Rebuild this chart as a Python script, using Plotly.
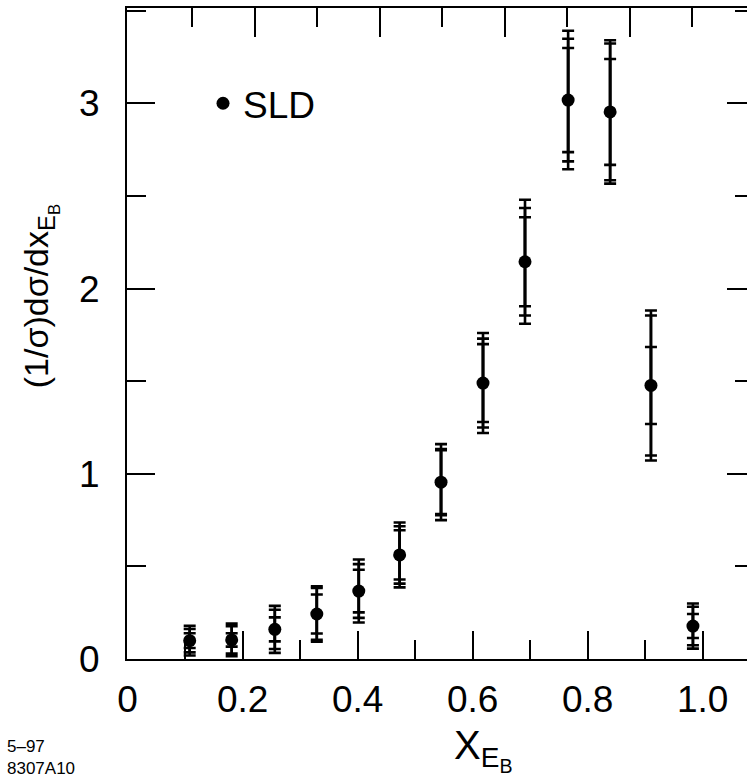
import plotly.graph_objects as go

# ---- data ----
x_eb = [0.108, 0.181, 0.256, 0.329, 0.402, 0.473, 0.545, 0.618, 0.691, 0.766, 0.839, 0.910, 0.983]
dist = [0.099, 0.103, 0.160, 0.243, 0.367, 0.562, 0.955, 1.490, 2.145, 3.018, 2.954, 1.477, 0.178]
err_stat = [0.040, 0.036, 0.065, 0.105, 0.115, 0.133, 0.172, 0.210, 0.240, 0.281, 0.286, 0.208, 0.065]
err_mid = [0.063, 0.074, 0.106, 0.140, 0.145, 0.155, 0.178, 0.240, 0.290, 0.331, 0.369, 0.378, 0.104]
err_tot = [0.080, 0.088, 0.127, 0.150, 0.170, 0.175, 0.205, 0.270, 0.335, 0.374, 0.387, 0.405, 0.122]

x_tickvals = [0, 0.2, 0.4, 0.6, 0.8, 1.0]
x_ticktext = ["0", "0.2", "0.4", "0.6", "0.8", "1.0"]
y_tickvals = [0, 1, 2, 3]
y_ticktext = ["0", "1", "2", "3"]
series_name = "SLD"

FONT = "Liberation Sans, Arial, Helvetica, sans-serif"
X_RANGE = [-0.001, 1.077]
Y_RANGE = [0, 3.515]

fig = go.Figure()

def err_trace(errs, show_marker, name=None, legend=False):
    return go.Scatter(
        x=x_eb, y=dist, mode="markers", name=name, showlegend=legend,
        marker=dict(color="black", size=13 if show_marker else 1,
                    opacity=1 if show_marker else 0),
        error_y=dict(type="data", array=errs, symmetric=True,
                     color="black", thickness=2.6, width=6),
        hoverinfo="skip" if not show_marker else None,
    )

fig.add_trace(err_trace(err_tot, False))
fig.add_trace(err_trace(err_mid, False))
fig.add_trace(err_trace(err_stat, True, name=series_name, legend=True))

# dummy trace to anchor the mirrored (top / right) axes
fig.add_trace(go.Scatter(x=[None], y=[None], xaxis="x2", yaxis="y2",
                         showlegend=False, hoverinfo="skip"))

TOP_START, TOP_STEP = 0.112, 0.1087
top_major = [TOP_START + TOP_STEP * k for k in range(1, 9, 2)]
top_minor = [TOP_START + TOP_STEP * k for k in range(0, 9, 2)]

fig.update_layout(
    width=747, height=780,
    margin=dict(l=127, r=0, t=8, b=121),
    paper_bgcolor="white", plot_bgcolor="white",
    font=dict(family=FONT, color="black", size=37),
    showlegend=True,
    legend=dict(x=0.1226, y=0.853, xanchor="left", yanchor="middle",
                bgcolor="rgba(0,0,0,0)", font=dict(size=37),
                itemsizing="trace"),
    xaxis=dict(range=X_RANGE, tickmode="array", tickvals=x_tickvals,
               ticktext=x_ticktext, ticks="inside", ticklen=28, tickwidth=2,
               tickcolor="black", showline=True, linewidth=2, linecolor="black",
               showgrid=False, zeroline=False, ticklabelstandoff=7,
               tickfont=dict(size=37),
               minor=dict(tickmode="linear", tick0=0, dtick=0.1, ticks="inside",
                          ticklen=19, tickwidth=2, tickcolor="black",
                          showgrid=False)),
    yaxis=dict(range=Y_RANGE, tickmode="array", tickvals=y_tickvals,
               ticktext=y_ticktext, ticks="inside", ticklen=28, tickwidth=2,
               tickcolor="black", showline=True, linewidth=2, linecolor="black",
               showgrid=False, zeroline=False, ticklabelstandoff=18,
               tickfont=dict(size=37),
               minor=dict(tickmode="linear", tick0=0, dtick=0.5, ticks="inside",
                          ticklen=19, tickwidth=2, tickcolor="black",
                          showgrid=False)),
    xaxis2=dict(range=X_RANGE, overlaying="x", side="top", anchor="y",
                tickmode="array", tickvals=top_major, ticks="inside",
                ticklen=29, tickwidth=2, tickcolor="black",
                showticklabels=False, showline=True, linewidth=2,
                linecolor="black", showgrid=False, zeroline=False,
                minor=dict(tickmode="array", tickvals=top_minor, ticks="inside",
                           ticklen=19, tickwidth=2, tickcolor="black",
                           showgrid=False)),
    yaxis2=dict(range=Y_RANGE, overlaying="y", side="right", anchor="x",
                tickmode="array", tickvals=y_tickvals, ticks="inside",
                ticklen=20, tickwidth=2, tickcolor="black",
                showticklabels=False, showline=False, showgrid=False,
                zeroline=False,
                minor=dict(tickmode="linear", tick0=0, dtick=0.5, ticks="inside",
                           ticklen=12, tickwidth=2, tickcolor="black",
                           showgrid=False)),
    annotations=[
        dict(text="(1/σ)dσ/dx<sub>E<sub>B</sub></sub>", textangle=-90,
             xref="paper", yref="paper", x=-0.14, y=0.5576,
             xanchor="center", yanchor="middle", showarrow=False,
             font=dict(size=34)),
        dict(text="X<sub>E<sub>B</sub></sub>",
             xref="paper", yref="paper", x=0.574, y=-0.14,
             xanchor="center", yanchor="middle", showarrow=False,
             font=dict(size=40)),
        dict(text="5–97<br>8307A10", align="left",
             xref="paper", yref="paper", x=-0.197, y=-0.152,
             xanchor="left", yanchor="middle", showarrow=False,
             font=dict(size=17)),
    ],
)

fig.write_html(
    "out.html",
    config={"displayModeBar": False},
    post_script="document.body.style.margin='0';document.body.style.overflow='hidden';",
)
